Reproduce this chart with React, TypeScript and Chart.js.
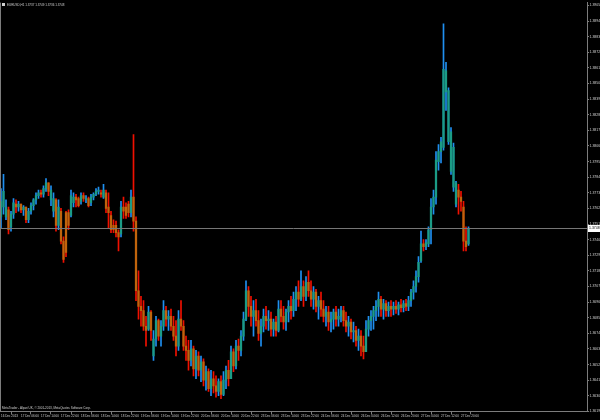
import React, { useEffect, useRef } from "react";
import { Chart, registerables } from "chart.js";

Chart.register(...registerables);

const symbolTitle = "EURUSD,H1";
const copyrightText = "MetaTrader - Alpari UK, © 2001-2013, MetaQuotes Software Corp.";

// time axis labels, one every 8 hourly bars
const timeLabels = [
  "16 Dec 2013", "17 Dec 06:00", "17 Dec 14:00", "17 Dec 22:00", "18 Dec 06:00", "18 Dec 14:00",
  "18 Dec 22:00", "19 Dec 06:00", "19 Dec 14:00", "19 Dec 22:00", "20 Dec 06:00", "20 Dec 14:00",
  "20 Dec 22:00", "23 Dec 06:00", "23 Dec 14:00", "23 Dec 22:00", "24 Dec 06:00", "24 Dec 14:00",
  "26 Dec 04:00", "26 Dec 12:00", "26 Dec 20:00", "27 Dec 04:00", "27 Dec 12:00", "27 Dec 20:00",
];
const barsPerLabel = 8;

// price axis labels
const priceTicks = [
  1.3905, 1.3894, 1.3883, 1.3872, 1.3861, 1.385, 1.3839, 1.3828, 1.3817, 1.3806, 1.3795, 1.3784,
  1.3773, 1.3762, 1.3751, 1.374, 1.3729, 1.3718, 1.3707, 1.3696, 1.3685, 1.3674, 1.3663, 1.3652,
  1.3641, 1.363, 1.3619,
];

const highs = [
  1.3776,1.3786,1.3768,1.3763,1.3760,1.3769,1.3768,1.3767,1.3765,1.3764,
  1.3763,1.3762,1.3766,1.3769,1.3773,1.3775,1.3775,1.3778,1.3783,1.3780,
  1.3778,1.3773,1.3769,1.3768,1.3762,1.3742,1.3760,1.3761,1.3775,1.3773,
  1.3772,1.3770,1.3773,1.3773,1.3771,1.3770,1.3772,1.3773,1.3776,1.3777,
  1.3775,1.3779,1.3775,1.3773,1.3760,1.3754,1.3753,1.3747,1.3767,1.3770,
  1.3766,1.3767,1.3775,1.3814,1.3756,1.3718,1.3700,1.3697,1.3686,1.3693,
  1.3690,1.3676,1.3686,1.3684,1.3683,1.3697,1.3693,1.3690,1.3691,1.3686,
  1.3683,1.3690,1.3697,1.3683,1.3672,1.3669,1.3669,1.3665,1.3662,1.3661,
  1.3658,1.3656,1.3651,1.3649,1.3648,1.3647,1.3644,1.3642,1.3644,1.3647,
  1.3651,1.3655,1.3665,1.3663,1.3669,1.3670,1.3676,1.3689,1.3711,1.3707,
  1.3700,1.3697,1.3698,1.3690,1.3684,1.3691,1.3693,1.3690,1.3689,1.3684,
  1.3686,1.3697,1.3697,1.3693,1.3691,1.3697,1.3700,1.3703,1.3707,1.3711,
  1.3718,1.3711,1.3714,1.3718,1.3711,1.3707,1.3705,1.3700,1.3703,1.3697,
  1.3693,1.3693,1.3689,1.3691,1.3693,1.3691,1.3693,1.3693,1.3689,1.3686,
  1.3684,1.3682,1.3679,1.3677,1.3676,1.3672,1.3683,1.3686,1.3690,1.3693,
  1.3697,1.3703,1.3700,1.3698,1.3697,1.3696,1.3697,1.3696,1.3697,1.3696,
  1.3698,1.3697,1.3698,1.3700,1.3705,1.3711,1.3718,1.3728,1.3746,1.3740,
  1.3740,1.3749,1.3769,1.3775,1.3802,1.3807,1.3812,1.3892,1.3865,1.3847,
  1.3819,1.3808,1.3781,1.3779,1.3774,1.3767,1.3749,1.3749,
];

const lows = [
  1.3748,1.3758,1.3754,1.3744,1.3746,1.3755,1.3759,1.3760,1.3759,1.3757,
  1.3752,1.3752,1.3758,1.3761,1.3765,1.3769,1.3770,1.3770,1.3774,1.3771,
  1.3764,1.3756,1.3746,1.3747,1.3737,1.3724,1.3728,1.3747,1.3756,1.3763,
  1.3763,1.3763,1.3765,1.3767,1.3766,1.3763,1.3764,1.3768,1.3771,1.3772,
  1.3770,1.3769,1.3759,1.3748,1.3745,1.3745,1.3742,1.3732,1.3742,1.3755,
  1.3755,1.3756,1.3756,1.3746,1.3697,1.3684,1.3679,1.3676,1.3665,1.3676,
  1.3669,1.3655,1.3665,1.3669,1.3665,1.3676,1.3679,1.3676,1.3676,1.3669,
  1.3658,1.3662,1.3676,1.3662,1.3655,1.3648,1.3651,1.3644,1.3642,1.3644,
  1.3640,1.3637,1.3634,1.3633,1.3630,1.3632,1.3629,1.3630,1.3628,1.3630,
  1.3635,1.3637,1.3642,1.3647,1.3649,1.3655,1.3658,1.3669,1.3683,1.3686,
  1.3679,1.3672,1.3679,1.3669,1.3665,1.3675,1.3677,1.3676,1.3672,1.3672,
  1.3672,1.3675,1.3682,1.3677,1.3676,1.3682,1.3684,1.3686,1.3690,1.3693,
  1.3697,1.3693,1.3697,1.3700,1.3693,1.3691,1.3689,1.3684,1.3686,1.3682,
  1.3679,1.3676,1.3675,1.3677,1.3679,1.3679,1.3682,1.3679,1.3675,1.3672,
  1.3670,1.3668,1.3665,1.3662,1.3658,1.3656,1.3661,1.3672,1.3676,1.3677,
  1.3683,1.3686,1.3686,1.3684,1.3686,1.3686,1.3686,1.3687,1.3688,1.3687,
  1.3689,1.3689,1.3690,1.3690,1.3693,1.3698,1.3703,1.3710,1.3724,1.3732,
  1.3733,1.3735,1.3737,1.3758,1.3765,1.3789,1.3794,1.3803,1.3831,1.3807,
  1.3786,1.3774,1.3763,1.3758,1.3760,1.3732,1.3732,1.3736,
];

const opens = [
  1.3756,1.3763,1.3756,1.3761,1.3749,1.3758,1.3765,1.3763,1.3765,1.3761,
  1.3763,1.3754,1.3760,1.3764,1.3768,1.3771,1.3773,1.3772,1.3776,1.3780,
  1.3768,1.3760,1.3768,1.3750,1.3760,1.3739,1.3759,1.3759,1.3757,1.3766,
  1.3770,1.3769,1.3767,1.3771,1.3768,1.3769,1.3766,1.3770,1.3772,1.3774,
  1.3773,1.3770,1.3773,1.3763,1.3757,1.3750,1.3750,1.3745,1.3744,1.3763,
  1.3763,1.3765,1.3759,1.3770,1.3753,1.3704,1.3693,1.3690,1.3679,1.3677,
  1.3689,1.3658,1.3670,1.3683,1.3672,1.3679,1.3690,1.3684,1.3686,1.3679,
  1.3672,1.3665,1.3684,1.3679,1.3665,1.3662,1.3655,1.3663,1.3649,1.3658,
  1.3648,1.3654,1.3641,1.3647,1.3635,1.3642,1.3637,1.3633,1.3640,1.3631,
  1.3641,1.3648,1.3642,1.3661,1.3651,1.3665,1.3662,1.3672,1.3684,1.3704,
  1.3693,1.3686,1.3690,1.3683,1.3674,1.3679,1.3686,1.3683,1.3684,1.3677,
  1.3682,1.3676,1.3691,1.3686,1.3682,1.3689,1.3693,1.3690,1.3698,1.3703,
  1.3698,1.3707,1.3700,1.3710,1.3704,1.3698,1.3703,1.3693,1.3697,1.3691,
  1.3686,1.3689,1.3682,1.3684,1.3689,1.3684,1.3686,1.3690,1.3683,1.3679,
  1.3682,1.3675,1.3676,1.3669,1.3672,1.3665,1.3661,1.3677,1.3683,1.3686,
  1.3690,1.3693,1.3698,1.3691,1.3695,1.3690,1.3693,1.3691,1.3693,1.3691,
  1.3694,1.3692,1.3695,1.3693,1.3697,1.3703,1.3707,1.3714,1.3725,1.3737,
  1.3735,1.3737,1.3747,1.3763,1.3770,1.3795,1.3802,1.3805,1.3844,1.3809,
  1.3788,1.3777,1.3765,1.3775,1.3770,1.3763,1.3739,1.3737,
];

const closes = [
  1.3767,1.3774,1.3763,1.3747,1.3758,1.3766,1.3763,1.3765,1.3761,1.3763,
  1.3754,1.3760,1.3764,1.3768,1.3771,1.3773,1.3772,1.3776,1.3780,1.3774,
  1.3775,1.3769,1.3750,1.3763,1.3739,1.3726,1.3731,1.3750,1.3771,1.3770,
  1.3768,1.3764,1.3771,1.3769,1.3769,1.3764,1.3770,1.3772,1.3774,1.3775,
  1.3772,1.3775,1.3762,1.3759,1.3747,1.3747,1.3745,1.3742,1.3763,1.3760,
  1.3757,1.3759,1.3770,1.3753,1.3704,1.3693,1.3690,1.3679,1.3676,1.3689,
  1.3676,1.3670,1.3683,1.3672,1.3679,1.3690,1.3684,1.3686,1.3679,1.3672,
  1.3665,1.3684,1.3679,1.3665,1.3662,1.3655,1.3663,1.3649,1.3658,1.3648,
  1.3654,1.3641,1.3647,1.3635,1.3642,1.3637,1.3633,1.3640,1.3631,1.3641,
  1.3648,1.3642,1.3661,1.3651,1.3665,1.3662,1.3672,1.3684,1.3704,1.3693,
  1.3686,1.3690,1.3683,1.3674,1.3679,1.3686,1.3683,1.3684,1.3677,1.3682,
  1.3676,1.3691,1.3686,1.3682,1.3689,1.3693,1.3690,1.3698,1.3703,1.3698,
  1.3707,1.3700,1.3710,1.3704,1.3698,1.3703,1.3693,1.3697,1.3691,1.3686,
  1.3689,1.3682,1.3684,1.3689,1.3684,1.3686,1.3690,1.3683,1.3679,1.3682,
  1.3675,1.3676,1.3669,1.3672,1.3665,1.3661,1.3677,1.3683,1.3686,1.3690,
  1.3693,1.3698,1.3691,1.3695,1.3690,1.3693,1.3691,1.3693,1.3691,1.3694,
  1.3692,1.3695,1.3693,1.3697,1.3703,1.3707,1.3714,1.3724,1.3737,1.3735,
  1.3738,1.3747,1.3763,1.3770,1.3796,1.3802,1.3809,1.3860,1.3859,1.3845,
  1.3816,1.3805,1.3780,1.3770,1.3767,1.3739,1.3735,1.3748,
];

const COLORS = {
  bg: "#000000",
  upWick: "#1f8ff0",
  upBody: "#1b9c86",
  downWick: "#f01000",
  downBody: "#c0640c",
  axis: "#7c7c7c",
  text: "#d0d0d0",
  priceLine: "#767676",
};
const FONT = "Liberation Sans";

const isUp = (i: number) => closes[i] >= opens[i];

const mtPlugin = {
  id: "mtDecor",
  beforeDraw(chart: any) {
    const c = chart.ctx;
    c.save();
    c.fillStyle = COLORS.bg;
    c.fillRect(0, 0, chart.width, chart.height);
    c.restore();
  },
  afterDraw(chart: any) {
    const { ctx, chartArea: a, scales } = chart;
    const last = closes.length - 1;
    const py = Math.round(scales.y.getPixelForValue(closes[last])) + 0.5;
    ctx.save();
    ctx.lineWidth = 1;
    ctx.strokeStyle = COLORS.priceLine;
    ctx.beginPath();
    ctx.moveTo(a.left, py);
    ctx.lineTo(a.right, py);
    ctx.stroke();
    // left frame
    ctx.strokeStyle = COLORS.axis;
    ctx.beginPath();
    ctx.moveTo(0.5, a.top);
    ctx.lineTo(0.5, a.bottom);
    ctx.stroke();
    // current price box
    ctx.fillStyle = "#ffffff";
    ctx.fillRect(a.right + 1, py - 3.5, chart.width - a.right - 1, 7);
    ctx.fillStyle = "#000000";
    ctx.font = `3.5px "${FONT}"`;
    ctx.textBaseline = "middle";
    ctx.textAlign = "left";
    ctx.fillText(closes[last].toFixed(4), a.right + 2, py);
    // title
    ctx.fillStyle = "#cfcfcf";
    ctx.fillRect(2, 3, 3, 3);
    ctx.fillStyle = COLORS.text;
    ctx.font = `3px "${FONT}"`;
    const title = `${symbolTitle} ${opens[last].toFixed(4)} ${highs[last].toFixed(4)} ${lows[last].toFixed(4)} ${closes[last].toFixed(4)}`;
    ctx.fillText(title, 7, 4.8);
    // copyright
    ctx.fillText(copyrightText, 2, a.bottom - 3.5);
    ctx.restore();
  },
};

export default function App() {
  const ref = useRef<HTMLCanvasElement | null>(null);

  useEffect(() => {
    if (!ref.current) return;
    const wicks = highs.map((h, i) => ({ x: i, y: [lows[i], h] }));
    const bodies = opens.map((o, i) => ({ x: i, y: [o, closes[i]] }));
    const chart = new Chart(ref.current, {
      type: "bar",
      data: {
        datasets: [
          {
            data: bodies as any,
            barThickness: 1.6,
            grouped: false,
            minBarLength: 1,
            borderWidth: 0,
            backgroundColor: (c: any) => (isUp(c.dataIndex) ? COLORS.upBody : COLORS.downBody),
          } as any,
          {
            data: wicks as any,
            barThickness: 1,
            grouped: false,
            borderWidth: 0,
            backgroundColor: (c: any) => (isUp(c.dataIndex) ? COLORS.upWick : COLORS.downWick),
          } as any,
        ],
      },
      options: {
        animation: false,
        responsive: false,
        devicePixelRatio: 1,
        events: [],
        layout: { padding: 0 },
        plugins: { legend: { display: false }, tooltip: { enabled: false }, title: { display: false } },
        scales: {
          x: {
            type: "linear",
            position: "bottom",
            min: -0.4,
            max: 234.4,
            offset: false,
            grid: { display: true, drawOnChartArea: false, drawTicks: true, tickLength: 3, color: COLORS.axis },
            border: { display: true, color: COLORS.axis },
            afterBuildTicks: (s: any) => {
              s.ticks = timeLabels.map((_, k) => ({ value: k * barsPerLabel }));
            },
            afterFit: (s: any) => {
              s.height = 8.6;
            },
            ticks: {
              autoSkip: false,
              maxRotation: 0,
              minRotation: 0,
              align: "start",
              padding: 0,
              color: COLORS.text,
              font: { family: FONT, size: 3 },
              callback: (_v: any, idx: number) => timeLabels[idx],
            },
          },
          y: {
            type: "linear",
            position: "right",
            min: 1.3619,
            max: 1.3907,
            grid: { display: true, drawOnChartArea: false, drawTicks: true, tickLength: 2, color: COLORS.axis },
            border: { display: true, color: COLORS.axis },
            afterBuildTicks: (s: any) => {
              s.ticks = priceTicks.map((v) => ({ value: v }));
            },
            afterFit: (s: any) => {
              s.width = 13;
            },
            ticks: {
              autoSkip: false,
              padding: 0.5,
              color: COLORS.text,
              font: { family: FONT, size: 3.5 },
              callback: (v: any) => Number(v).toFixed(4),
            },
          },
        },
      } as any,
      plugins: [mtPlugin],
    });
    return () => chart.destroy();
  }, []);

  return (
    <div style={{ position: "fixed", left: 0, top: 0, width: 600, height: 420, background: "#000" }}>
      <canvas ref={ref} width={600} height={420} style={{ display: "block", width: 600, height: 420 }} />
    </div>
  );
}
